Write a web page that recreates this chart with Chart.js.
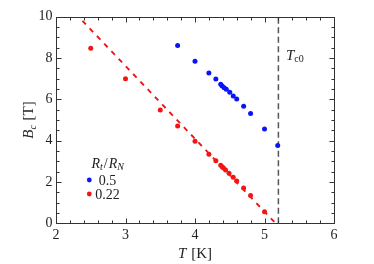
<!DOCTYPE html>
<html><head><meta charset="utf-8">
<script src="https://cdn.jsdelivr.net/npm/chart.js@4"></script>
<style>html,body{margin:0;padding:0;background:#fff}#wrap{width:374px;height:264px}</style>
</head><body><div id="wrap"><canvas id="c" width="374" height="264"></canvas></div>
<script>
const blueT = [3.75,4.0,4.2,4.3,4.37,4.39,4.42,4.45,4.5,4.55,4.6,4.7,4.8,5.0,5.19];
const blueB = [8.60,7.84,7.27,6.98,6.73,6.65,6.56,6.49,6.34,6.16,6.02,5.66,5.32,4.56,3.76];
const redT = [2.5,3.0,3.5,3.75,4.0,4.2,4.3,4.37,4.39,4.41,4.44,4.49,4.55,4.6,4.7,4.8,5.0];
const redB = [8.47,7.0,5.48,4.71,3.97,3.34,3.03,2.81,2.74,2.68,2.58,2.42,2.23,2.05,1.71,1.35,0.56];
const fitT = [2.38,5.16];
const fitB = [9.8,0];
const tcT = [5.2,5.2];
const tcB = [0,10];
const xTicks = [2,3,4,5,6];
const yTicks = [0,2,4,6,8,10];
const legendLabels = ['0.5','0.22'];

const pts = (xs,ys)=>xs.map((v,i)=>({x:v,y:ys[i]}));
const SERIF = '"Liberation Serif", "DejaVu Serif", serif';

const deco = {
  id:'deco',
  afterDraw(chart){
    const {ctx, chartArea:a, scales:{x,y}} = chart;
    ctx.save();
    ctx.strokeStyle='#333'; ctx.lineWidth=1;
    const L=Math.round(a.left)+0.5, R=Math.round(a.right)+0.5, T=Math.round(a.top)+0.5, B=Math.round(a.bottom)+0.5;
    ctx.beginPath();
    for(let i=0;i<=20;i++){
      const v=2+i*0.2; const px=Math.round(x.getPixelForValue(v))+0.5;
      const len = (i%5===0)?5:3;
      ctx.moveTo(px,B); ctx.lineTo(px,B-len);
      ctx.moveTo(px,T); ctx.lineTo(px,T+len);
    }
    for(let i=0;i<=20;i++){
      const v=i*0.5; const py=Math.round(y.getPixelForValue(v))+0.5;
      const len = (i%4===0)?5:3;
      ctx.moveTo(L,py); ctx.lineTo(L+len,py);
      ctx.moveTo(R,py); ctx.lineTo(R-len,py);
    }
    ctx.stroke();
    ctx.strokeRect(L,T,R-L,B-T);

    ctx.fillStyle='#222';
    ctx.textBaseline='alphabetic';
    const drawRuns=(runs,x0,y0)=>{let cx=x0;for(const r of runs){ctx.font=r.f;ctx.fillText(r.t,cx,y0+(r.dy||0));cx+=ctx.measureText(r.t).width+(r.sp||0);}return cx;};
    const measureRuns=(runs)=>{let w=0;for(const r of runs){ctx.font=r.f;w+=ctx.measureText(r.t).width+(r.sp||0);}return w;};
    const xr=[{t:'T',f:'italic 15px '+SERIF,sp:1},{t:' [K]',f:'15px '+SERIF}];
    const cxm=(a.left+a.right)/2;
    drawRuns(xr,cxm-measureRuns(xr)/2,258);
    const yr=[{t:'B',f:'italic 15px '+SERIF},{t:'c',f:'italic 10px '+SERIF,dy:3,sp:1},{t:' [T]',f:'15px '+SERIF}];
    ctx.save();
    ctx.translate(33,(a.top+a.bottom)/2);
    ctx.rotate(-Math.PI/2);
    drawRuns(yr,-measureRuns(yr)/2,0);
    ctx.restore();
    drawRuns([{t:'T',f:'italic 15px '+SERIF,sp:0},{t:'c0',f:'10px '+SERIF,dy:2}],286,60);
    drawRuns([{t:'R',f:'italic 14px '+SERIF},{t:'t',f:'italic 10px '+SERIF,dy:2.5,sp:1},{t:'/',f:'14px '+SERIF,sp:1},{t:'R',f:'italic 14px '+SERIF},{t:'N',f:'italic 10px '+SERIF,dy:2.5}],91.5,167.5);
    const cols=[chart.data.datasets[0].backgroundColor, chart.data.datasets[1].backgroundColor];
    const ys=[180,194];
    ctx.font='14px '+SERIF; ctx.textAlign='center';
    for(let i=0;i<2;i++){
      ctx.fillStyle=cols[i]; ctx.beginPath(); ctx.arc(89.3,ys[i],2.4,0,Math.PI*2); ctx.fill();
      ctx.fillStyle='#222'; ctx.fillText(legendLabels[i],107.5,ys[i]+4.8);
    }
    ctx.restore();
  }
};

new Chart(document.getElementById('c'),{
  type:'scatter',
  data:{datasets:[
    {label:legendLabels[0],data:pts(blueT,blueB),backgroundColor:'#0a14f5',borderColor:'#0a14f5',pointRadius:2.5,borderWidth:0,order:1},
    {label:legendLabels[1],data:pts(redT,redB),backgroundColor:'#f51414',borderColor:'#f51414',pointRadius:2.5,borderWidth:0,order:2},
    {type:'line',data:pts(fitT,fitB),borderColor:'#f01414',borderWidth:1.9,borderDash:[5,5.5],pointRadius:0,fill:false,order:3},
    {type:'line',data:pts(tcT,tcB),borderColor:'#555',borderWidth:1.5,borderDash:[6,3.5],pointRadius:0,fill:false,order:4}
  ]},
  options:{
    responsive:false,animation:false,devicePixelRatio:1,
    layout:{padding:{left:0,right:40,top:16.7,bottom:0}},
    plugins:{legend:{display:false},tooltip:{enabled:false}},
    scales:{
      x:{type:'linear',min:2,max:6,
        afterFit(s){s.height=40.7;},
        afterBuildTicks(s){s.ticks=xTicks.map(v=>({value:v}));},
        grid:{display:false,drawTicks:false},border:{display:false},
        ticks:{padding:3.5,color:'#222',font:{family:SERIF,size:14}}},
      y:{type:'linear',min:0,max:10,
        afterFit(s){s.width=56;},
        afterBuildTicks(s){s.ticks=yTicks.map(v=>({value:v}));},
        grid:{display:false,drawTicks:false},border:{display:false},
        ticks:{padding:3.5,color:'#222',font:{family:SERIF,size:14}}}
    }
  },
  plugins:[deco]
});
</script></body></html>
